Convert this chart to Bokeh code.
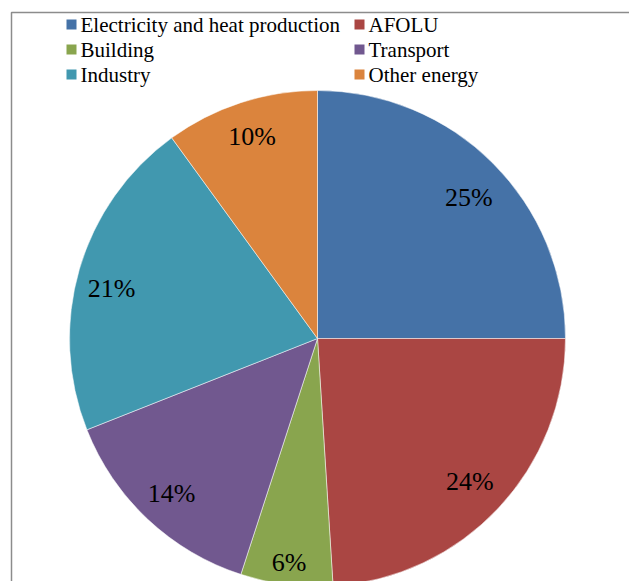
import math
from bokeh.plotting import figure
from bokeh.models import ColumnDataSource
from bokeh.core.properties import value
from bokeh.embed import file_html
from bokeh.resources import INLINE

# Emission shares by sector (%)
sectors = ["Electricity and heat production", "AFOLU", "Building",
           "Transport", "Industry", "Other energy"]
shares = [25, 24, 6, 14, 21, 10]
colors = ["#4572A7", "#AA4643", "#89A54E", "#71588F", "#4198AF", "#DB843D"]

W, H = 629, 581
CX, CY, R = 317, H - 338, 248
FONT = "'Liberation Serif', 'Times New Roman', serif"
# radial distance / angular nudge (deg, clockwise) of each percentage label
label_r = [207, 209, 226, 213, 212, 212]
label_da = [2, 0, 0, 0, -2.5, 0]

total = float(sum(shares))
starts, ends, lx, ly, texts = [], [], [], [], []
acc = 0.0
for i, s in enumerate(shares):
    a0 = math.pi / 2 - 2 * math.pi * acc / total
    acc += s
    a1 = math.pi / 2 - 2 * math.pi * acc / total
    starts.append(a0)
    ends.append(a1)
    mid = (a0 + a1) / 2 - math.radians(label_da[i])
    lx.append(CX + label_r[i] * math.cos(mid))
    ly.append(CY + label_r[i] * math.sin(mid))
    texts.append(f"{s}%")

p = figure(width=W, height=H, x_range=(0, W), y_range=(0, H),
           output_backend="svg", toolbar_location=None, min_border=0)
p.axis.visible = False
p.grid.visible = False
p.outline_line_color = None
p.background_fill_color = "white"
p.border_fill_color = "white"

# chart frame
p.line(x=[11, 11, W + 5], y=[-5, H - 12, H - 12], line_color="#8c8c8c", line_width=1.5)

src = ColumnDataSource(dict(start=starts, end=ends, color=colors))
p.wedge(x=CX, y=CY, radius=R, start_angle="start", end_angle="end",
        direction="clock", fill_color="color", line_color="white",
        line_alpha=0.5, line_width=1, source=src)

p.text(x=lx, y=ly, text=texts, text_font=value(FONT),
       text_font_size="26px", text_color="black", text_align="center",
       text_baseline="middle")

# legend, two columns
col_x = [66, 354]
row_y = [24, 49, 74]
for i, name in enumerate(sectors):
    x0 = col_x[i % 2]
    y0 = H - row_y[i // 2]
    p.rect(x=x0 + 5, y=y0, width=10, height=10, fill_color=colors[i], line_color=None)
    p.text(x=[x0 + 14], y=[y0], text=[name], text_font=value(FONT),
           text_font_size="21px", text_color="black", text_align="left",
           text_baseline="middle")

open("out.html", "w").write(file_html(p, INLINE))
